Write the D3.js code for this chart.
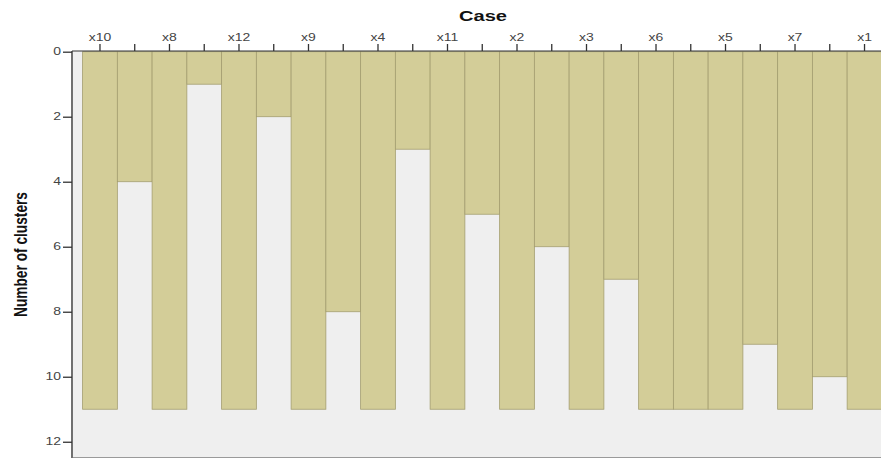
<!DOCTYPE html>
<html>
<head>
<meta charset="utf-8">
<script src="https://cdn.jsdelivr.net/npm/d3@7/dist/d3.min.js"></script>
<style>
  html, body { margin: 0; padding: 0; background: #ffffff; }
  svg { display: block; }
  text { font-family: Arial, "Liberation Sans", sans-serif; }
</style>
</head>
<body>
<svg id="chart" width="881" height="459"></svg>
<script>
// Cases in icicle order (left to right)
const cases = ["x10", "x8", "x12", "x9", "x4", "x11", "x2", "x3", "x6", "x5", "x7", "x1"];
// For each gap between neighbouring cases: the largest number of clusters
// at which the two neighbours still belong to the same cluster
const joinedUpTo = [4, 1, 2, 8, 3, 5, 6, 7, 11, 9, 10];
// Cases are drawn down to the finest solution shown
const maxClusters = 11;
const yTicks = [0, 2, 4, 6, 8, 10, 12];

const svg = d3.select("#chart");
const plot = { left: 73, top: 51, right: 881, bottom: 458 };
const stretch = 1.4; // labels are set wide

// Interleave cases and gaps into slots
const slots = [];
cases.forEach((c, i) => {
  slots.push({ kind: "case", label: c, depth: maxClusters });
  if (i < joinedUpTo.length) slots.push({ kind: "gap", label: "", depth: joinedUpTo[i] });
});

const x = d3.scaleBand()
  .domain(d3.range(slots.length))
  .range([82.6, 881.9])
  .paddingInner(0).paddingOuter(0);

const y = d3.scaleLinear()
  .domain([0, 12.5])
  .range([51.7, 458]);

// plot background
svg.append("rect")
  .attr("x", plot.left).attr("y", plot.top)
  .attr("width", plot.right - plot.left).attr("height", plot.bottom - plot.top)
  .attr("fill", "#efefef");

// icicle bars
svg.append("g")
  .selectAll("rect")
  .data(slots)
  .join("rect")
  .attr("x", (d, i) => x(i))
  .attr("y", y(0))
  .attr("width", x.bandwidth())
  .attr("height", d => y(d.depth) - y(0))
  .attr("fill", "#d3cd98")
  .attr("stroke", "#a49e70")
  .attr("stroke-width", 0.8);

// bottom frame line
svg.append("line")
  .attr("x1", plot.left).attr("x2", plot.right)
  .attr("y1", plot.bottom - 0.5).attr("y2", plot.bottom - 0.5)
  .attr("stroke", "#9a9a9a").attr("stroke-width", 1);

// top axis with case labels
const xAxis = d3.axisTop(x)
  .tickValues(d3.range(slots.length))
  .tickSize(7)
  .tickPadding(3)
  .tickSizeOuter(0)
  .tickFormat(i => slots[i].label);

const gx = svg.append("g")
  .attr("transform", `translate(0,${plot.top})`)
  .call(xAxis);
gx.select(".domain").remove();
gx.selectAll(".tick line").attr("stroke", "#333").attr("stroke-width", 1.3);
gx.selectAll(".tick text")
  .attr("fill", "#444")
  .attr("transform", `scale(${stretch},1)`)
  .style("font-size", "10px");
svg.append("line")
  .attr("x1", plot.left - 1).attr("x2", plot.right)
  .attr("y1", plot.top).attr("y2", plot.top)
  .attr("stroke", "#333").attr("stroke-width", 1.2);

// left axis
const yAxis = d3.axisLeft(y)
  .tickValues(yTicks)
  .tickSize(9)
  .tickPadding(2)
  .tickSizeOuter(0)
  .tickFormat(d3.format("d"));

const gy = svg.append("g")
  .attr("transform", `translate(${plot.left - 1},0)`)
  .call(yAxis);
gy.select(".domain").remove();
gy.selectAll(".tick line").attr("stroke", "#333").attr("stroke-width", 1.3);
gy.selectAll(".tick text")
  .attr("fill", "#444")
  .attr("x", -11 / stretch)
  .attr("transform", `scale(${stretch},1)`)
  .style("font-size", "10px");
svg.append("line")
  .attr("x1", plot.left - 1).attr("x2", plot.left - 1)
  .attr("y1", plot.top).attr("y2", plot.bottom)
  .attr("stroke", "#333").attr("stroke-width", 1.4);

// axis titles
svg.append("text")
  .attr("x", 483).attr("y", 21)
  .attr("text-anchor", "middle")
  .attr("textLength", 48)
  .attr("lengthAdjust", "spacingAndGlyphs")
  .style("font-size", "15px")
  .style("font-weight", "bold")
  .attr("fill", "#111")
  .text("Case");

svg.append("text")
  .attr("transform", "translate(27,254.5) rotate(-90)")
  .attr("text-anchor", "middle")
  .attr("textLength", 125)
  .attr("lengthAdjust", "spacingAndGlyphs")
  .style("font-size", "19px")
  .style("font-weight", "bold")
  .attr("fill", "#111")
  .text("Number of clusters");
</script>
</body>
</html>
